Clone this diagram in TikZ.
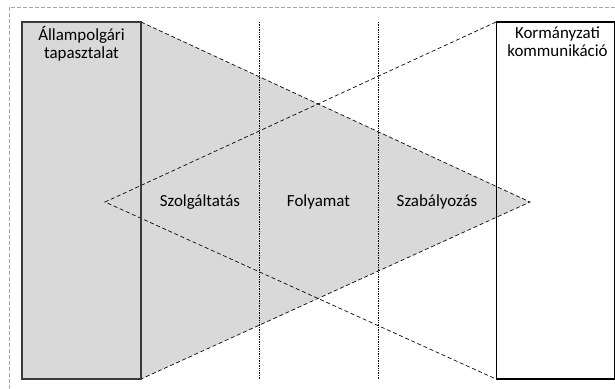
\documentclass[tikz,border=0pt]{standalone}
\usepackage{fontspec}
\setmainfont{Carlito}
\usetikzlibrary{positioning, calc}
\definecolor{panel}{HTML}{D9D9D9}
\definecolor{edge}{HTML}{3A3A3A}
\definecolor{frame}{HTML}{A6A6A6}

\begin{document}
\begin{tikzpicture}[x=0.75pt, y=-0.75pt,
      every node/.style={font=\fontsize{12.7}{13.6}\selectfont, align=center, inner sep=0pt, outer sep=0pt},
      side/.style={draw=edge, line width=0.9pt, minimum width=89.25pt, minimum height=267.75pt, anchor=north west},
      wedge/.style={draw=black, line width=0.5pt, dash pattern=on 3pt off 2pt},
      divider/.style={draw=black, line width=0.5pt, dash pattern=on 1pt off 0.8pt},
      outline/.style={draw=frame, line width=0.6pt, dash pattern=on 3pt off 1.5pt}]
    \useasboundingbox (0,0) rectangle (615,389);
    \draw[outline] (9,7) rectangle (640,420);
    \node[side, fill=panel] (citizen) at (22,22) {};
    \node[side, draw=none] (gov) at (496,22) {};
    \coordinate (tipR) at (530,202);
    \coordinate (tipL) at (105,202);
    \draw[wedge, fill=panel] (citizen.north east) -- (tipR) -- (citizen.south east);
    \draw[divider] (259,22) -- (259,379);
    \draw[divider] (378,22) -- (378,379);
    \draw[wedge] (gov.north west) -- (tipL) -- (gov.south west);
    \draw[edge, line width=0.9pt] (citizen.north west) rectangle (citizen.south east);
    \draw[black, line width=0.9pt] (gov.north west) -- (gov.north east) -- (gov.south east) -- (gov.south west);
    \draw[black, line width=0.5pt] (gov.north west) -- (gov.south west);
    \node[below=3.5pt of citizen.north] (citizenlbl) {Állampolgári\\tapasztalat};
    \node[below=3.5pt of gov.north, xshift=1.5pt] (govlbl) {Kormányzati\\kommunikáció};
    \node (service) at (200,202) {Szolgáltatás};
    \node (process) at (318.5,202) {Folyamat};
    \node (rules) at (437,202) {Szabályozás};
  \end{tikzpicture}
\end{document}
